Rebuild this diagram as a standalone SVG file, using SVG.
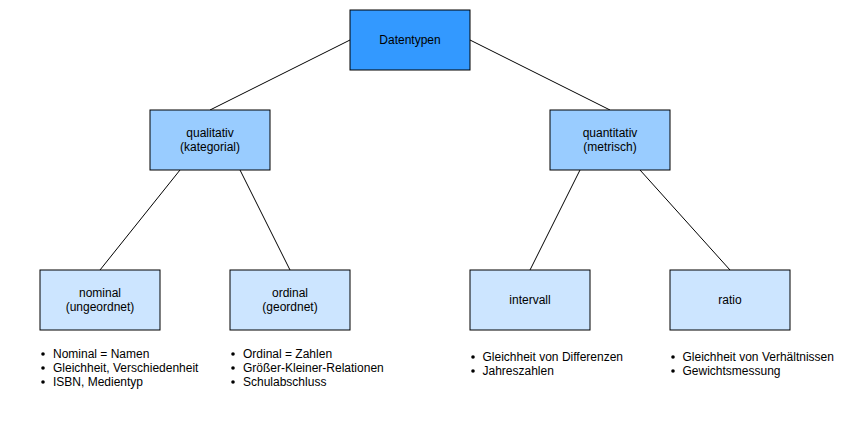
<svg xmlns="http://www.w3.org/2000/svg" width="861" height="441" viewBox="0 0 861 441">
<style>
  .box { stroke: #000; stroke-width: 1; }
  .l1 { fill: #3399ff; }
  .l2 { fill: #99ccff; }
  .l3 { fill: #cce5ff; }
  .lbl { font-family: "Liberation Sans", Arial, sans-serif; font-size: 12px; fill: #000; text-anchor: middle; }
  .lst { font-family: "Liberation Sans", Arial, sans-serif; font-size: 12px; fill: #000; }
  .conn line { stroke: #000; stroke-width: 1; }
</style>
<rect width="861" height="441" fill="#fff"/>
<g id="connectors" class="conn">
  <line x1="350" y1="40" x2="210" y2="110"/>
  <line x1="470" y1="40" x2="610" y2="110"/>
  <line x1="180" y1="170" x2="100" y2="270"/>
  <line x1="240" y1="170" x2="290" y2="270"/>
  <line x1="580" y1="170" x2="530" y2="270"/>
  <line x1="640" y1="170" x2="730" y2="270"/>
</g>
<g id="datentypen">
  <rect class="box l1" x="350" y="10" width="120" height="60"/>
  <text class="lbl" x="410" y="44">Datentypen</text>
</g>
<g id="qualitativ">
  <rect class="box l2" x="150" y="110" width="120" height="60"/>
  <text class="lbl" x="210" y="137">qualitativ</text>
  <text class="lbl" x="210" y="151">(kategorial)</text>
</g>
<g id="quantitativ">
  <rect class="box l2" x="550" y="110" width="120" height="60"/>
  <text class="lbl" x="610" y="137">quantitativ</text>
  <text class="lbl" x="610" y="151">(metrisch)</text>
</g>
<g id="nominal">
  <rect class="box l3" x="40" y="270" width="120" height="60"/>
  <text class="lbl" x="100" y="297">nominal</text>
  <text class="lbl" x="100" y="311">(ungeordnet)</text>
</g>
<g id="ordinal">
  <rect class="box l3" x="230" y="270" width="120" height="60"/>
  <text class="lbl" x="290" y="297">ordinal</text>
  <text class="lbl" x="290" y="311">(geordnet)</text>
</g>
<g id="intervall">
  <rect class="box l3" x="470" y="270" width="120" height="60"/>
  <text class="lbl" x="530" y="304">intervall</text>
</g>
<g id="ratio">
  <rect class="box l3" x="670" y="270" width="120" height="60"/>
  <text class="lbl" x="730" y="304">ratio</text>
</g>
<g id="nominal-list">
  <circle cx="43" cy="354" r="1.8"/><text class="lst" x="53" y="357.5">Nominal = Namen</text>
  <circle cx="43" cy="368" r="1.8"/><text class="lst" x="53" y="371.5">Gleichheit, Verschiedenheit</text>
  <circle cx="43" cy="382" r="1.8"/><text class="lst" x="53" y="385.5">ISBN, Medientyp</text>
</g>
<g id="ordinal-list">
  <circle cx="233" cy="354" r="1.8"/><text class="lst" x="243" y="357.5">Ordinal = Zahlen</text>
  <circle cx="233" cy="368" r="1.8"/><text class="lst" x="243" y="371.5">Größer-Kleiner-Relationen</text>
  <circle cx="233" cy="382" r="1.8"/><text class="lst" x="243" y="385.5">Schulabschluss</text>
</g>
<g id="intervall-list">
  <circle cx="473" cy="357" r="1.8"/><text class="lst" x="482.5" y="360.5">Gleichheit von Differenzen</text>
  <circle cx="473" cy="371" r="1.8"/><text class="lst" x="482.5" y="374.5">Jahreszahlen</text>
</g>
<g id="ratio-list">
  <circle cx="673" cy="357" r="1.8"/><text class="lst" x="682.5" y="360.5">Gleichheit von Verhältnissen</text>
  <circle cx="673" cy="371" r="1.8"/><text class="lst" x="682.5" y="374.5">Gewichtsmessung</text>
</g>
</svg>
